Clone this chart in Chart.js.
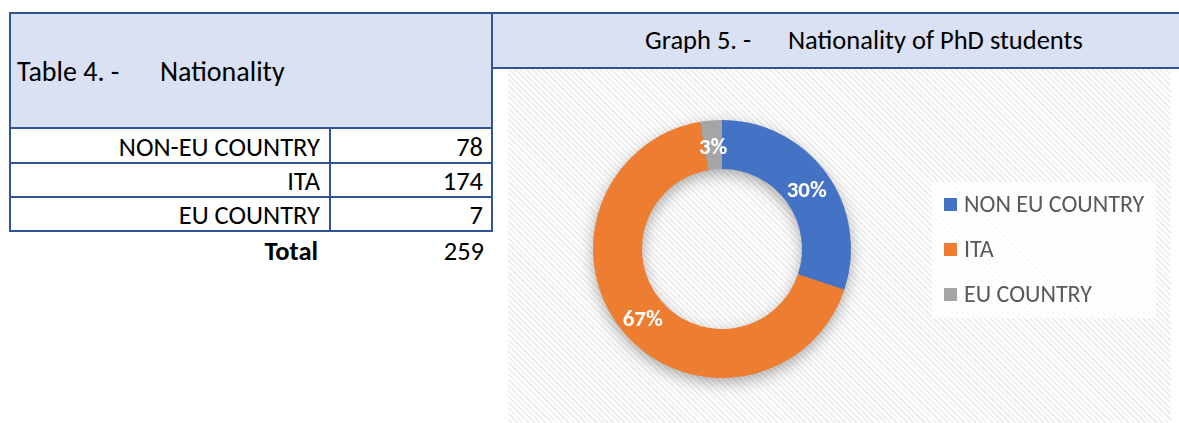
<!DOCTYPE html>
<html>
<head>
<meta charset="utf-8">
<script src="https://cdn.jsdelivr.net/npm/chart.js@4/dist/chart.umd.min.js"></script>
<style>
  html, body { margin: 0; padding: 0; background: #fff; }
  body { width: 1179px; height: 423px; position: relative; overflow: hidden; font-family: Carlito, Lato, "Liberation Sans", sans-serif; color: #000; }
  .abs { position: absolute; }
  #tblHead { left: 9px; top: 12px; width: 484px; height: 117px; box-sizing: border-box; background: #dae1f2; border: 2px solid #2f5597; }
  #tblHead span { position: absolute; top: 42px; font-size: 28px; line-height: 32px; }
  .row { left: 9px; width: 484px; height: 36px; box-sizing: border-box; border: 2px solid #2f5597; border-top: none; }
  .row .lab { position: absolute; left: 0; width: 309px; text-align: right; top: 2px; font-size: 26.5px; line-height: 34px; }
  .row .val { position: absolute; right: 8px; text-align: right; top: 2px; font-size: 26.5px; line-height: 34px; }
  .row .sep { position: absolute; left: 318px; top: 0; width: 2px; height: 100%; background: #2f5597; }
  #graphHead { left: 491px; top: 12px; width: 700px; height: 57px; box-sizing: border-box; background: #dae1f2; border: 2px solid #2f5597; }
  #graphHead span { position: absolute; top: 10px; font-size: 26.5px; line-height: 32px; }
  #chartBox { left: 508px; top: 69px; width: 663px; height: 354px;
    background: repeating-linear-gradient(45deg, #ffffff 0px, #ffffff 2px, #efefef 2px, #efefef 4px); }
  #legend { left: 932px; top: 182px; width: 224px; height: 136px; background: rgba(255,255,255,0.75); }
  .lg { position: absolute; left: 12px; font-size: 24px; line-height: 28px; color: #595959; white-space: nowrap; }
  .lg i { display: inline-block; width: 13px; height: 13px; margin-right: 7px; vertical-align: 1px; }
</style>
</head>
<body>
<div id="tblHead" class="abs"><span style="left:6px">Table 4. -</span><span style="left:149px">Nationality</span></div>
<div id="rows"></div>
<div class="abs" style="left:9px;top:234px;width:309px;text-align:right;font-size:26.5px;line-height:34px;font-weight:bold;">Total</div>
<div id="totalVal" class="abs" style="left:330px;top:234px;width:154px;text-align:right;font-size:26.5px;line-height:34px;"></div>

<div id="graphHead" class="abs"><span style="left:152px">Graph 5. -</span><span style="left:295px">Nationality of PhD students</span></div>
<div id="chartBox" class="abs"><canvas id="c" width="663" height="354"></canvas></div>
<div id="legend" class="abs"></div>

<script>
// ---- data ----
const tableLabels = ["NON-EU COUNTRY", "ITA", "EU COUNTRY"];
const chartLabels = ["NON EU COUNTRY", "ITA", "EU COUNTRY"];
const studentCounts = [78, 174, 7];
const sliceColors = ["#4472c4", "#ed7d31", "#a5a5a5"];

const total = studentCounts.reduce((a, b) => a + b, 0);

// table rows
const rowsEl = document.getElementById('rows');
tableLabels.forEach((lab, i) => {
  const d = document.createElement('div');
  d.className = 'row abs';
  d.style.top = (128 + i * 34) + 'px';
  d.innerHTML = '<span class="lab">' + lab + '</span><span class="sep"></span><span class="val">' + studentCounts[i] + '</span>';
  rowsEl.appendChild(d);
});
document.getElementById('totalVal').textContent = total;

// legend
const legEl = document.getElementById('legend');
chartLabels.forEach((lab, i) => {
  const d = document.createElement('div');
  d.className = 'lg';
  d.style.top = (8 + i * 45) + 'px';
  d.innerHTML = '<i style="background:' + sliceColors[i] + '"></i>' + lab;
  legEl.appendChild(d);
});

// shadow ring plugin
const ringShadow = {
  id: 'ringShadow',
  beforeDatasetsDraw(chart) {
    const arc = chart.getDatasetMeta(0).data[0];
    if (!arc) return;
    const { x, y, innerRadius, outerRadius } = arc.getProps(['x', 'y', 'innerRadius', 'outerRadius'], true);
    const ctx = chart.ctx;
    ctx.save();
    ctx.shadowColor = 'rgba(0,0,0,0.35)';
    ctx.shadowBlur = 16;
    ctx.shadowOffsetX = 0;
    ctx.shadowOffsetY = 5;
    ctx.beginPath();
    ctx.arc(x, y, outerRadius - 1, 0, Math.PI * 2);
    ctx.arc(x, y, innerRadius + 1, 0, Math.PI * 2, true);
    ctx.fillStyle = '#888';
    ctx.fill('evenodd');
    ctx.restore();
  }
};

// percent labels plugin
const pctLabels = {
  id: 'pctLabels',
  afterDatasetsDraw(chart) {
    const ctx = chart.ctx;
    const meta = chart.getDatasetMeta(0);
    ctx.save();
    ctx.font = 'bold 23px Carlito, Lato, "Liberation Sans", sans-serif';
    ctx.fillStyle = '#ffffff';
    ctx.textAlign = 'center';
    ctx.textBaseline = 'middle';
    meta.data.forEach((arc, i) => {
      const p = arc.tooltipPosition(true);
      const pct = Math.round(studentCounts[i] / total * 100) + '%';
      ctx.fillText(pct, p.x, p.y + 3);
    });
    ctx.restore();
  }
};

new Chart(document.getElementById('c'), {
  type: 'doughnut',
  data: {
    labels: chartLabels,
    datasets: [{ data: studentCounts, backgroundColor: sliceColors, borderWidth: 0, hoverOffset: 0 }]
  },
  options: {
    responsive: false,
    animation: false,
    cutout: '62%',
    layout: { padding: { top: 51, bottom: 45, left: 85, right: 320 } },
    plugins: { legend: { display: false }, tooltip: { enabled: false } }
  },
  plugins: [ringShadow, pctLabels]
});
</script>
</body>
</html>
